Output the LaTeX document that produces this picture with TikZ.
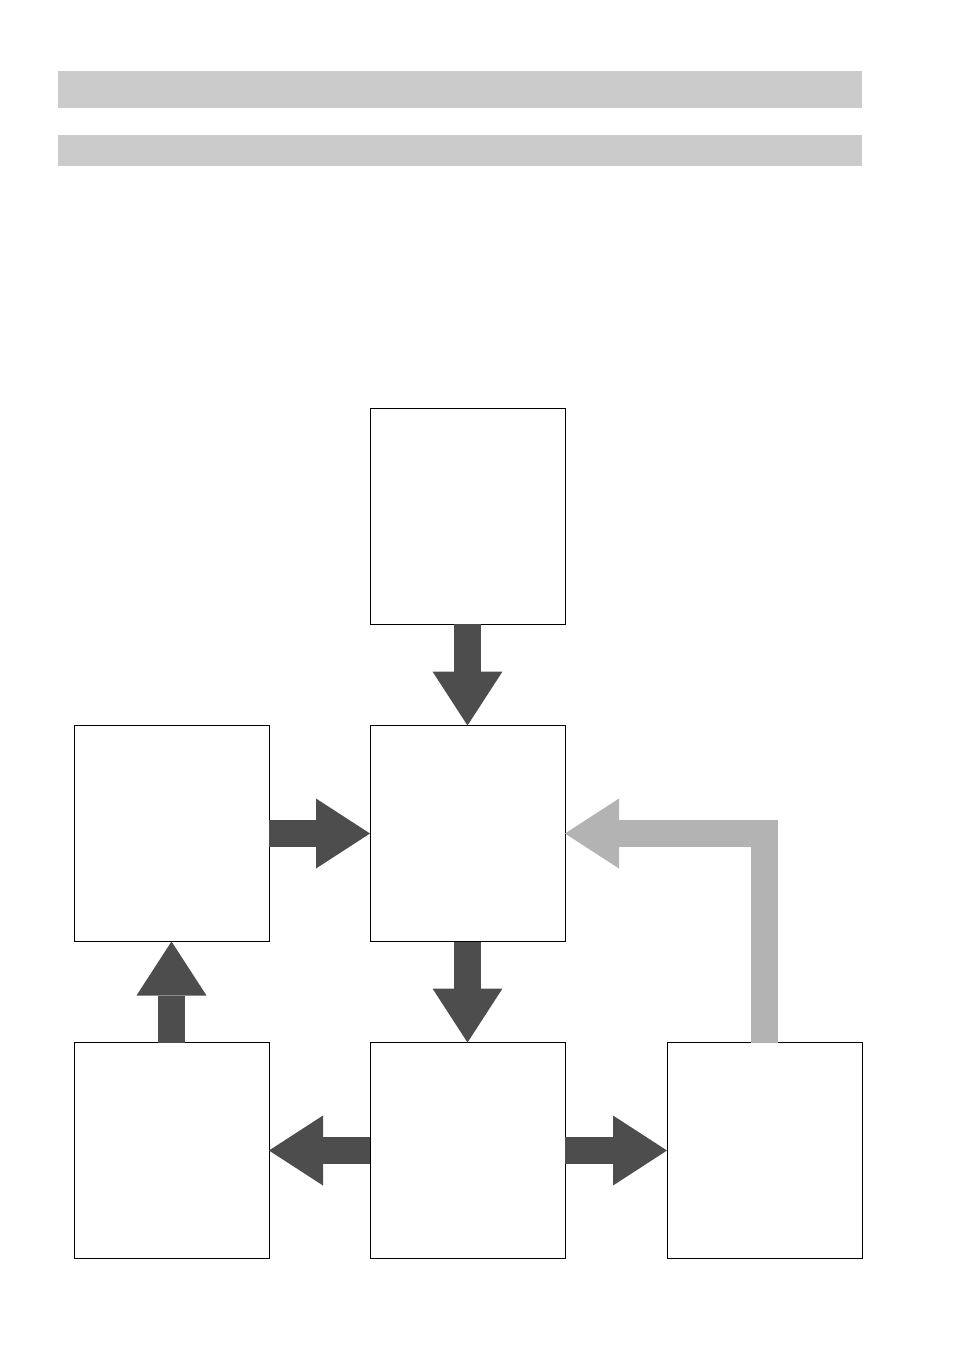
\documentclass[tikz,border=0pt]{standalone}
\usetikzlibrary{arrows.meta}
\definecolor{bargray}{HTML}{CBCBCB}
\definecolor{darkarrow}{HTML}{4D4D4D}
\definecolor{lightarrow}{HTML}{B3B3B3}
\tikzset{
  box/.style={draw=black, line width=1pt, fill=white, minimum width=195pt, minimum height=216pt, inner sep=0pt, outer sep=0pt},
  bar/.style={fill=bargray, draw=none, minimum width=804pt, inner sep=0pt, outer sep=0pt},
  fatarrow/.style={line width=27pt, line join=miter, -{Triangle[width=70pt,length=54pt,line width=0pt]}},
  darkfat/.style={fatarrow, draw=darkarrow},
  lightfat/.style={fatarrow, draw=lightarrow}
}
\begin{document}
\begin{tikzpicture}[x=1pt,y=-1pt]
\useasboundingbox (0,0) rectangle (954,1351);
\node[bar, minimum height=37pt] (bar1) at (460,89.5) {};
\node[bar, minimum height=31pt] (bar2) at (460,150.5) {};
\node[box] (T) at (467.5,516) {};
\node[box] (M) at (467.5,833.5) {};
\node[box] (L) at (171.5,833.5) {};
\node[box] (BL) at (171.5,1150.5) {};
\node[box] (BM) at (467.5,1150.5) {};
\node[box] (BR) at (764.5,1150.5) {};
\draw[darkfat] (T.south) -- (M.north);
\draw[darkfat] (L.east) -- (M.west);
\draw[darkfat] (BL.north) -- (L.south);
\draw[darkfat] (M.south) -- (BM.north);
\draw[darkfat] (BM.west) -- (BL.east);
\draw[darkfat] (BM.east) -- (BR.west);
\draw[lightfat] (BR.north) |- (M.east);
\end{tikzpicture}
\end{document}
